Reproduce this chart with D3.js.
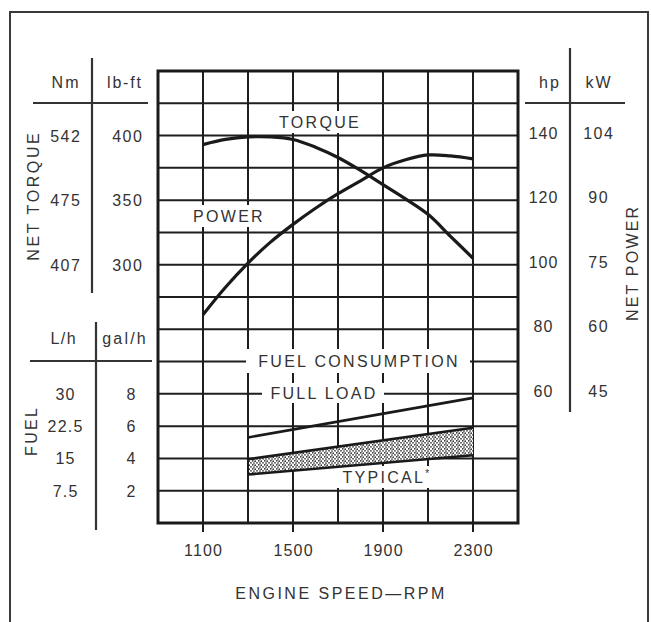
<!DOCTYPE html>
<html lang="en">
<head>
<meta charset="UTF-8">
<title>Engine performance</title>
<script src="https://d3js.org/d3.v7.min.js"></script>
<style>
  body { margin: 0; background: #fff; }
  text { font-family: "Liberation Sans", Arial, sans-serif; fill: #333; }
</style>
</head>
<body>
<div id="chart"></div>
<script>
// engine speed samples for the torque / power curves
var rpm = [1100, 1200, 1300, 1400, 1500, 1600, 1700, 1800, 1900, 2000, 2100, 2200, 2300];
var torqueLbFt = [393, 397, 399, 399, 397, 391, 383, 373, 362, 351, 339, 322, 305];
var powerHp = [84.5, 93, 100.5, 107, 112.5, 117.5, 122, 126, 130, 132.5, 134, 133.7, 132.8];

// fuel consumption (gal/h), straight lines between 1300 and 2300 rpm
var fuelRpm = [1300, 2300];
var fullLoadGal = [5.3, 7.75];
var typicalHighGal = [3.95, 5.9];
var typicalLowGal = [3.0, 4.2];

// axis tick labels
var rpmTicks = [1100, 1500, 1900, 2300];
var torqueTicks = [400, 350, 300];
var nmLabels = ["542", "475", "407"];
var hpTicks = [140, 120, 100, 80, 60];
var kwLabels = ["104", "90", "75", "60", "45"];
var galTicks = [8, 6, 4, 2];
var lhLabels = ["30", "22.5", "15", "7.5"];

var W = 651, H = 622;
var pLeft = 158, pRight = 518, pTop = 71, pBottom = 523;

var svg = d3.select("#chart").append("svg")
    .attr("width", W).attr("height", H);

// speckled fill for the "typical" band
var defs = svg.append("defs");
var pat = defs.append("pattern")
    .attr("id", "stipple")
    .attr("patternUnits", "userSpaceOnUse")
    .attr("width", 6).attr("height", 4);
pat.append("rect").attr("width", 6).attr("height", 4).attr("fill", "#fff");
[[0.8, 0.8], [3.2, 1.2], [2, 3], [5, 2.8]].forEach(function(p) {
    pat.append("circle").attr("cx", p[0]).attr("cy", p[1]).attr("r", 0.85).attr("fill", "#2a2a2a");
});

// outer frame
svg.append("rect")
    .attr("x", 10).attr("y", 12).attr("width", 638).attr("height", 630)
    .attr("fill", "none").attr("stroke", "#3a3a3a").attr("stroke-width", 2);

var x = d3.scaleLinear().domain([900, 2500]).range([pLeft, pRight]);
var yTorque = d3.scaleLinear().domain([100, 450]).range([pBottom, pTop]);
var yPower = d3.scaleLinear().domain([20, 160]).range([pBottom, pTop]);
var yFuel = d3.scaleLinear().domain([0, 28]).range([pBottom, pTop]);

// grid
var grid = svg.append("g").attr("stroke", "#1e1e1e").attr("stroke-width", 2);
grid.selectAll(".gx").data(d3.range(1100, 2500, 200)).enter().append("line")
    .attr("x1", function(d) { return x(d); }).attr("x2", function(d) { return x(d); })
    .attr("y1", pTop).attr("y2", pBottom);
grid.selectAll(".gy").data(d3.range(2, 28, 2)).enter().append("line")
    .attr("x1", pLeft).attr("x2", pRight)
    .attr("y1", function(d) { return yFuel(d); }).attr("y2", function(d) { return yFuel(d); });
svg.append("rect")
    .attr("x", pLeft).attr("y", pTop).attr("width", pRight - pLeft).attr("height", pBottom - pTop)
    .attr("fill", "none").attr("stroke", "#1a1a1a").attr("stroke-width", 3);

// x ticks
svg.selectAll(".xt").data(rpmTicks).enter().append("line")
    .attr("x1", function(d) { return x(d); }).attr("x2", function(d) { return x(d); })
    .attr("y1", pBottom).attr("y2", pBottom + 9)
    .attr("stroke", "#1e1e1e").attr("stroke-width", 2);
svg.selectAll(".xl").data(rpmTicks).enter().append("text")
    .attr("x", function(d) { return x(d) + 0.6; }).attr("y", 556)
    .attr("text-anchor", "middle").attr("font-size", 16).attr("letter-spacing", 1.2)
    .text(function(d) { return d; });
svg.append("text").attr("x", 341).attr("y", 599)
    .attr("text-anchor", "middle").attr("font-size", 16).attr("letter-spacing", 2.5)
    .text("ENGINE SPEED\u2014RPM");

// labels inside plot with white backing
function label(txt, cx, cy, w, h) {
    svg.append("rect").attr("x", cx - w / 2).attr("y", cy - h / 2)
        .attr("width", w).attr("height", h).attr("fill", "#fff");
    return svg.append("text").attr("x", cx + 1).attr("y", cy + 6)
        .attr("text-anchor", "middle").attr("font-size", 16)
        .attr("letter-spacing", 2.3).text(txt);
}
label("TORQUE", 319, 122, 92, 22);
label("POWER", 228, 216, 82, 22);
label("FUEL CONSUMPTION", 358, 361, 224, 24);
label("FULL LOAD", 323, 393, 122, 20);
var typ = label("TYPICAL", 386, 477, 98, 22);
typ.append("tspan").attr("font-size", 10).attr("dy", -6).text("*");

// curves
var lineT = d3.line()
    .x(function(d, i) { return x(rpm[i]); })
    .y(function(d) { return yTorque(d); })
    .curve(d3.curveCatmullRom);
var lineP = d3.line()
    .x(function(d, i) { return x(rpm[i]); })
    .y(function(d) { return yPower(d); })
    .curve(d3.curveCatmullRom);
svg.append("path").attr("d", lineT(torqueLbFt))
    .attr("fill", "none").attr("stroke", "#1a1a1a").attr("stroke-width", 3.2);
svg.append("path").attr("d", lineP(powerHp))
    .attr("fill", "none").attr("stroke", "#1a1a1a").attr("stroke-width", 3.2);

// fuel
var band = d3.area()
    .x(function(d, i) { return x(fuelRpm[i]); })
    .y0(function(d, i) { return yFuel(typicalLowGal[i]); })
    .y1(function(d) { return yFuel(d); });
svg.append("path").attr("d", band(typicalHighGal)).attr("fill", "url(#stipple)");
var lineF = d3.line()
    .x(function(d, i) { return x(fuelRpm[i]); })
    .y(function(d) { return yFuel(d); });
[fullLoadGal, typicalHighGal, typicalLowGal].forEach(function(s) {
    svg.append("path").attr("d", lineF(s))
        .attr("fill", "none").attr("stroke", "#1a1a1a").attr("stroke-width", 2.6);
});
svg.append("line")
    .attr("x1", x(1300)).attr("x2", x(1300))
    .attr("y1", yFuel(typicalLowGal[0])).attr("y2", yFuel(typicalHighGal[0]))
    .attr("stroke", "#1a1a1a").attr("stroke-width", 2);

// side tables
var tbl = svg.append("g").attr("stroke", "#333").attr("stroke-width", 2.2);
// torque table
tbl.append("line").attr("x1", 92).attr("x2", 92).attr("y1", 58).attr("y2", 293);
tbl.append("line").attr("x1", 33).attr("x2", 148).attr("y1", 103).attr("y2", 103);
// fuel table
tbl.append("line").attr("x1", 96).attr("x2", 96).attr("y1", 322).attr("y2", 530);
tbl.append("line").attr("x1", 30).attr("x2", 152).attr("y1", 361).attr("y2", 361);
// power table
tbl.append("line").attr("x1", 570).attr("x2", 570).attr("y1", 48).attr("y2", 412);
tbl.append("line").attr("x1", 525).attr("x2", 625).attr("y1", 103).attr("y2", 103);

function txt(s, cx, cy, ls, rot) {
    var t = svg.append("text").attr("text-anchor", "middle").attr("font-size", 16)
        .attr("letter-spacing", ls).text(s);
    if (rot) {
        t.attr("transform", "translate(" + cx + "," + cy + ") rotate(-90)")
            .attr("x", ls / 2).attr("y", 6);
    } else {
        t.attr("x", cx + ls / 2).attr("y", cy + 6);
    }
}
txt("Nm", 65, 82, 2.2);
txt("lb-ft", 124, 82, 1.8);
txt("L/h", 63, 338, 1.5);
txt("gal/h", 124, 338, 2.2);
txt("hp", 549, 82, 2);
txt("kW", 598, 82, 2);
txt("NET TORQUE", 33, 197, 2.6, true);
txt("FUEL", 31, 432, 2.3, true);
txt("NET POWER", 632, 264, 2.2, true);

torqueTicks.forEach(function(t, i) {
    txt(nmLabels[i], 65, yTorque(t), 1.5);
    txt(String(t), 127, yTorque(t), 1.5);
});
hpTicks.forEach(function(t, i) {
    txt(String(t), 543, yPower(t) - 3, 1);
    txt(kwLabels[i], 598, yPower(t) - 3, 1.5);
});
galTicks.forEach(function(t, i) {
    txt(lhLabels[i], 65, yFuel(t), 1.2);
    txt(String(t), 131, yFuel(t), 1);
});
</script>
</body>
</html>
